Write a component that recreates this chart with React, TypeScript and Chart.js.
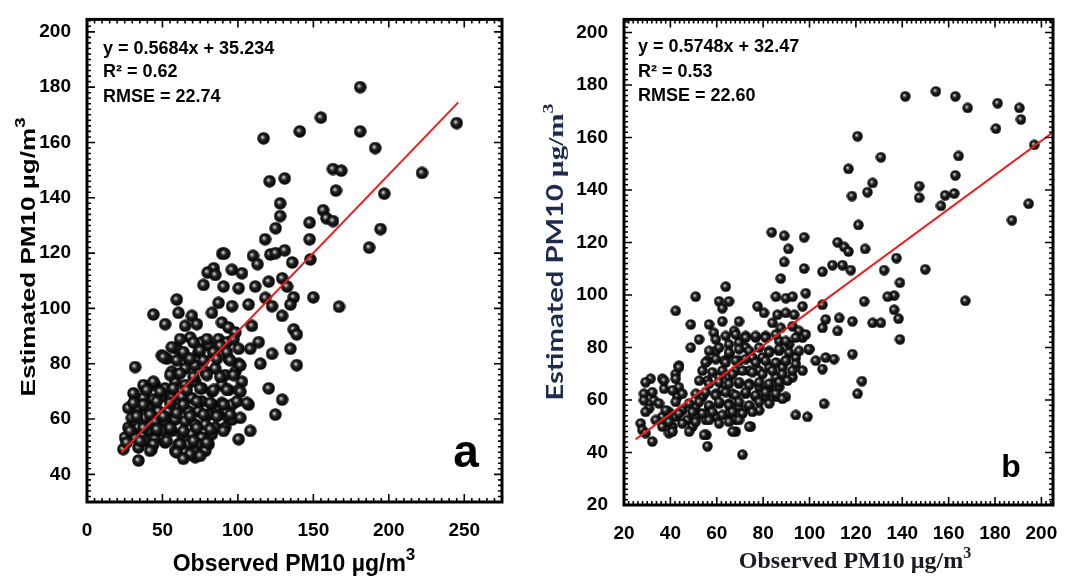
import React, { useEffect, useRef } from "react";
import { Chart, registerables } from "chart.js";

Chart.register(...registerables);

// ---------------- Panel a data ----------------
const scatterA: [number, number][] = [
  [181, 180], [155, 169], [141, 164], [117, 161.5], [181, 164], [191, 158], [245, 167], [222, 149],
  [197, 141.5], [194.5, 128.7], [187, 122], [163, 150.4], [168.5, 149.8], [165, 142.6], [121, 146],
  [131, 147], [128, 138], [128, 133.4], [125, 129], [156.5, 135.5], [158.7, 132.6], [163, 131.6],
  [147.5, 131], [147.5, 125], [118, 125], [148, 117.7], [136, 116.6], [121.5, 119.5], [125, 120],
  [131, 121], [110, 119], [113, 116], [89.6, 119.8], [91, 119.8], [84, 114.5], [80, 113], [96, 114],
  [167, 100.6], [150, 104], [137, 104], [137, 92.4], [139, 90.6], [139, 79.5],
  [77.2, 108.5], [85, 112.1], [90.5, 107.9], [100.5, 107.3], [102.7, 112.7], [111.5, 107.9], [120.4, 109.7],
  [129.3, 110.9], [132.6, 107.9], [59.5, 103.2], [60.6, 98.4], [44, 97.8], [51.8, 94.3], [69.5, 97.3],
  [82.8, 98.4], [87.2, 102], [96.1, 100.8], [107.1, 101.4], [118.2, 103.8], [122.6, 100.8], [129.3, 97.3],
  [134.8, 101.4], [65.1, 93.7], [72.8, 94.3], [89.4, 94.9], [93.8, 93.1], [98.3, 91.3], [109.3, 93.7],
  [113.8, 87.8], [108.2, 85.4], [122.6, 83.6], [134.8, 85.4], [114.9, 80], [49.6, 83], [52.9, 81.8],
  [59.5, 85.4], [68.4, 89.5], [76.1, 87.8], [80.6, 86.6], [87.2, 88.9], [92.7, 87.8], [100.5, 85.4],
  [67.3, 81.8], [73.9, 84.2], [83.9, 83.6], [93.8, 81.8], [100.5, 80], [31.9, 78.8], [56.2, 77.1],
  [65.1, 78.3], [71.7, 79.4], [78.4, 77.1], [85, 78.3], [91.6, 75.9], [98.3, 77.1], [102.7, 73.5],
  [89.4, 72.3], [38.5, 71.1], [45.1, 72.3], [51.8, 71.1], [58.4, 73.5], [65.1, 72.3], [71.7, 73.5],
  [76.1, 71.1], [82.8, 69.9], [93.8, 70.5], [100.5, 70.5], [120.4, 71.1], [129.3, 67], [31.9, 67.6],
  [37.4, 67.6], [44, 67], [49.6, 68.1], [56.2, 67.6], [62.9, 68.1], [69.5, 67.6], [76.1, 66.4],
  [82.8, 65.2], [89.4, 65.8], [96.1, 65.2], [107.1, 65.2], [124.8, 61.6], [27.4, 64], [34.1, 64],
  [40.7, 64], [47.4, 62.8], [54, 62.8], [60.6, 64], [67.3, 62.8], [73.9, 62.8], [80.6, 61.6],
  [87.2, 61.6], [93.8, 60.4], [96.1, 59.8], [29.7, 60.4], [38.5, 60.4], [45.1, 59.2], [51.8, 59.2],
  [58.4, 59.8], [65.1, 59.2], [71.7, 58], [78.4, 58], [85, 56.9], [91.6, 56.9], [27.4, 56.9],
  [34.1, 56.9], [40.7, 55.7], [49.6, 55.7], [56.2, 55.7], [62.9, 54.5], [69.5, 54.5], [76.1, 53.3],
  [82.8, 54.5], [25.2, 53.3], [31.9, 53.3], [38.5, 52.1], [45.1, 52.7], [51.8, 51.5], [60.6, 50.9],
  [67.3, 50.9], [73.9, 50.9], [80.6, 50.9], [100.5, 52.7], [108.2, 55.7], [24.1, 49.1], [34.1, 49.7],
  [42.9, 49.1], [65.1, 48], [71.7, 48], [78.4, 48.5], [58.4, 48.5], [34.1, 45], [71.7, 46.2],
  [61.7, 88.9], [70.6, 87.7], [79.5, 88.9], [88.3, 86.5], [97.2, 88.9], [56.2, 86], [63.9, 84.2],
  [75, 84.8], [83.9, 84.2], [92.7, 84.2], [50.7, 82.4], [59.5, 81.2], [68.4, 81.8], [77.2, 81.2],
  [86.1, 81.8], [94.9, 81.2], [101.6, 79.4], [37.4, 72.3], [44, 73.5], [55.1, 75.9], [61.7, 76.5],
  [70.6, 75.3], [79.5, 75.9], [88.3, 75.3], [97.2, 75.9], [30.8, 69.3], [39.6, 70.5], [48.5, 69.9],
  [57.3, 71.1], [66.2, 70.5], [75, 71.1], [83.9, 70.5], [92.7, 70.5], [101.6, 69.9], [30.8, 65.8],
  [37.4, 65.2], [46.3, 66.4], [55.1, 65.8], [63.9, 65.2], [72.8, 66.4], [81.7, 65.8], [90.5, 65.2],
  [99.4, 66.4], [106, 65.8], [33, 61], [41.8, 61.6], [50.7, 61], [59.5, 62.2], [68.4, 61],
  [77.2, 61.6], [86.1, 61], [94.9, 61.6], [101.6, 60.4], [28.5, 55.7], [37.4, 56.8], [46.3, 56.3],
  [55.1, 56.8], [63.9, 55.7], [72.8, 56.8], [81.7, 56.3], [90.5, 55.7], [26.3, 51.5], [35.2, 52.1],
  [44, 50.9], [52.9, 52.1], [61.7, 50.9], [70.6, 52.1], [79.5, 51.5], [41.8, 48.5], [59.5, 47.9],
  [68.4, 47.3], [75, 46.7], [63.9, 45.6],
];
const fitA: [number, number][] = [[23, 48], [246, 174.5]];
const statsA = ["y = 0.5684x + 35.234", "R\u00b2 = 0.62", "RMSE = 22.74"];
const xTicksA = [0, 50, 100, 150, 200, 250];
const yTicksA = [40, 60, 80, 100, 120, 140, 160, 180, 200];

// ---------------- Panel b data ----------------
const scatterB: [number, number][] = [
  [141.3, 175.7], [154.5, 177.6], [162.9, 175.7], [168.2, 171.3], [181.1, 173.1], [180.4, 163.4],
  [190.5, 171.3], [191.2, 166.9], [196.9, 157.2], [194.5, 134.8], [187.3, 128.5], [120.7, 160.5],
  [116.8, 148.1], [130.8, 152.5], [164.3, 153], [162.9, 145.6], [147.3, 141.5], [147.3, 137.1],
  [125, 139.2], [127.2, 142.7], [118.3, 137.7], [158.5, 138], [162.4, 138.7], [156.7, 134],
  [121.1, 126.7], [124, 117.6], [149.9, 109.8], [137.5, 114.1], [139, 104.7], [132.2, 109.5],
  [83.7, 123.9], [89.1, 122.6], [90.9, 117.6], [97.7, 122], [112.1, 120.1], [115, 118.3], [116.8, 116.6],
  [167.2, 97.8], [136.5, 99.8], [133.7, 99.4], [136.5, 94.4], [138.4, 91], [139, 83.1], [127.2, 89.4],
  [130.8, 89.4], [123.6, 97.6], [122.6, 67.2],
  [89.1, 112.6], [97.7, 110.1], [105.6, 108.9], [109.9, 111.4], [114.2, 111.4], [117.8, 109.5],
  [87.6, 106.3], [63.9, 103.2], [50.9, 99.4], [61, 97.6], [65.3, 97.6], [62.4, 95], [42.3, 94],
  [77.6, 95.7], [80.4, 93.2], [85.5, 99.4], [89.8, 98.8], [92.7, 99.4], [98.4, 100.7], [97, 95.7],
  [105.6, 96.3], [86.2, 92.5], [89.8, 93.2], [93.4, 92.5], [105.6, 87.5], [107, 90.7], [112.8, 91.3],
  [112.1, 86.3], [118.5, 90], [48.8, 88.8], [52.4, 83.1], [48.8, 80], [56.7, 88.8], [58.8, 85.6],
  [62.4, 90], [69.6, 90], [67.5, 86.3], [72.5, 84.4], [76.8, 83.8], [69.6, 81.9], [65.3, 81.2],
  [84, 89.4], [87.6, 87.5], [92.7, 88.1], [95.5, 86.3], [81.1, 84.4], [86.9, 82.5], [91.2, 81.2],
  [97, 83.8], [99.8, 79.4], [102.7, 75], [107, 76.2], [110.6, 75.6], [105.6, 71.8], [118.5, 77.5],
  [120.7, 62.4], [106.3, 58.6], [94.1, 54.3], [99.1, 53.6], [43.7, 73.1], [42.3, 69.9], [43.7, 64.9],
  [43, 61.2], [36.5, 68.1], [37.3, 64.3], [31.5, 68.1], [28.6, 62.4], [32.9, 59.9], [30.8, 56.8],
  [27.2, 51.1], [27.9, 48.6], [32.2, 44.2], [36.5, 53.6], [39.4, 55.5], [36.5, 49.9], [40.9, 49.9],
  [45.2, 56.1], [47.3, 52.4], [50.9, 53.6], [55.3, 52.4], [56.7, 57.4], [59.6, 62.4], [56, 67.4],
  [61, 68.7], [63.2, 75], [56, 75], [59.6, 78.7], [65.3, 77.5], [69.6, 75], [72.5, 80], [75.4, 76.2],
  [79.7, 76.2], [82.6, 78.7], [86.9, 78.7], [89.8, 75], [94.1, 76.2], [97, 71.2], [92.7, 68.7],
  [88.3, 72.5], [85.5, 68.7], [82.6, 72.5], [78.3, 71.2], [74, 71.2], [68.2, 71.2], [65.3, 68.7],
  [69.6, 66.2], [74, 66.2], [78.3, 64.9], [82.6, 64.9], [86.9, 64.9], [89.8, 61.2], [85.5, 61.2],
  [81.1, 61.2], [76.8, 61.2], [72.5, 62.4], [66.8, 62.4], [62.4, 63.7], [61, 58.6], [65.3, 58.6],
  [69.6, 57.4], [74, 57.4], [78.3, 56.1], [65.3, 54.9], [59.6, 53.6], [68.2, 52.4], [53.8, 61.2],
  [50.9, 57.4], [49.5, 49.9], [55.5, 46.7], [56, 42.4], [68.2, 48], [74.7, 49.9], [71.1, 39.2],
  [39.4, 47.4], [42.3, 53.6],
  [59.6, 83.1], [63.9, 84.4], [68.2, 85], [72.5, 83.8], [76.8, 84.4], [81.1, 83.8], [85.5, 85],
  [89.8, 82.5], [94.1, 83.8], [98.4, 85], [56.7, 78.7], [61, 80], [65.3, 78.1], [69.6, 79.4],
  [74, 78.7], [78.3, 80], [82.6, 78.1], [86.9, 79.4], [91.2, 78.1], [95.5, 78.7], [99.8, 79.4],
  [55.2, 74.3], [59.6, 75.6], [63.9, 74.3], [68.2, 75], [72.5, 75.6], [76.8, 74.3], [81.1, 75],
  [85.5, 74.3], [89.8, 75], [94.1, 73.7], [43.7, 72.5], [53.8, 71.2], [58.1, 70.6], [62.4, 71.2],
  [66.8, 69.9], [71.1, 71.2], [75.4, 70.6], [79.7, 69.9], [84, 71.2], [88.3, 69.9], [92.6, 71.2],
  [29.3, 66.8], [37.3, 67.4], [42.3, 68.1], [52.4, 67.4], [56.7, 66.2], [61, 66.8], [65.3, 66.2],
  [69.6, 66.8], [74, 65.6], [78.3, 66.8], [82.6, 66.2], [86.9, 66.8], [90.5, 67.4], [32.2, 63],
  [40.9, 63.7], [45.2, 62.4], [51, 62.4], [55.2, 63], [59.6, 61.8], [63.9, 63], [68.2, 61.8],
  [72.5, 63], [76.8, 61.8], [81.1, 63], [85.5, 62.4], [88.3, 60.5], [28.6, 59.9], [35.1, 58.7],
  [42.3, 59.3], [48.1, 58.7], [52.4, 59.3], [56.7, 58], [61, 59.3], [65.3, 58], [69.6, 59.3],
  [74, 58], [78.3, 59.3], [82.6, 58.7], [29.3, 55.5], [38, 56.1], [43.7, 54.9], [49.5, 55.5],
  [53.8, 54.9], [58.1, 55.5], [62.4, 54.3], [66.8, 55.5], [71.1, 54.9], [75.4, 55.5], [33.7, 52.4],
  [39.4, 51.7], [45.2, 51.1], [50.9, 51.7], [56.7, 52.4], [61, 51.1], [65.3, 51.7], [69.6, 52.4],
  [74, 49.9], [29.3, 47.4], [40.9, 48], [48.1, 48], [54.5, 46.7], [66.8, 48],
];
const fitB: [number, number][] = [[25, 45], [205, 162]];
const statsB = ["y = 0.5748x + 32.47", "R\u00b2 = 0.53", "RMSE = 22.60"];
const xTicksB = [20, 40, 60, 80, 100, 120, 140, 160, 180, 200];
const yTicksB = [20, 40, 60, 80, 100, 120, 140, 160, 180, 200];

// ---------------- helpers ----------------
type Seg = { t: string; font: string; dy?: number };

function drawSegs(
  ctx: CanvasRenderingContext2D,
  segs: Seg[],
  cx: number,
  baseY: number,
  angle: number,
  color: string,
  target?: number
) {
  ctx.save();
  ctx.translate(cx, baseY);
  ctx.rotate(angle);
  ctx.fillStyle = color;
  ctx.textBaseline = "alphabetic";
  ctx.textAlign = "left";
  let total = 0;
  const ws = segs.map((s) => {
    ctx.font = s.font;
    const w = ctx.measureText(s.t).width;
    total += w;
    return w;
  });
  const sx = target ? target / total : 1;
  ctx.scale(sx, 1);
  let x = -total / 2;
  segs.forEach((s, i) => {
    ctx.font = s.font;
    ctx.fillText(s.t, x, s.dy ?? 0);
    x += ws[i];
  });
  ctx.restore();
}

function makeSphere(d: number) {
  const c = document.createElement("canvas");
  c.width = d;
  c.height = d;
  const g = c.getContext("2d")!;
  const r = d / 2;
  const grad = g.createRadialGradient(r * 0.78, r * 0.78, 0, r, r, r);
  grad.addColorStop(0, "#ffffff");
  grad.addColorStop(0.16, "#9a9a9a");
  grad.addColorStop(0.42, "#222222");
  grad.addColorStop(1, "#000000");
  g.fillStyle = grad;
  g.beginPath();
  g.arc(r, r, r - 0.3, 0, Math.PI * 2);
  g.fill();
  return c;
}

type PanelCfg = {
  left: number;
  width: number;
  height: number;
  pad: { top: number; right: number };
  yW: number;
  xH: number;
  xMin: number;
  xMax: number;
  yMin: number;
  yMax: number;
  xMinor: number;
  yMinor: number;
  xMajor: number;
  yMajor: number;
  xTicks: number[];
  yTicks: number[];
  pts: [number, number][];
  fit: [number, number][];
  stats: string[];
  statsFont: string;
  statsDx: number;
  statsDy: number[];
  letter: string;
  letterFont: string;
  letterPos: [number, number];
  ball: number;
  titles: (ctx: CanvasRenderingContext2D) => void;
};

const tickFont = { family: '"Liberation Sans", Arial, sans-serif', size: 19, weight: "bold" as const };

function Panel({ cfg }: { cfg: PanelCfg }) {
  const ref = useRef<HTMLCanvasElement>(null);
  useEffect(() => {
    const cv = ref.current!;
    const sphere = makeSphere(cfg.ball);
    const deco = {
      id: "deco",
      afterDraw(chart: any) {
        const { ctx, chartArea: a, scales } = chart;
        const x = scales.x;
        const y = scales.y;
        ctx.save();
        ctx.strokeStyle = "#000";
        ctx.lineWidth = 1.6;
        ctx.beginPath();
        const x0 = Math.ceil(cfg.xMin / cfg.xMinor) * cfg.xMinor;
        for (let v = x0; v <= cfg.xMax + 1e-6; v += cfg.xMinor) {
          const vv = Math.round(v * 1000) / 1000;
          const p = x.getPixelForValue(vv);
          const len = Math.abs(vv % cfg.xMajor) < 1e-6 ? 8 : 4;
          ctx.moveTo(p, a.bottom);
          ctx.lineTo(p, a.bottom - len);
          ctx.moveTo(p, a.top);
          ctx.lineTo(p, a.top + len);
        }
        const y0 = Math.ceil(cfg.yMin / cfg.yMinor) * cfg.yMinor;
        for (let v = y0; v <= cfg.yMax + 1e-6; v += cfg.yMinor) {
          const vv = Math.round(v * 1000) / 1000;
          const p = y.getPixelForValue(vv);
          const len = Math.abs(vv % cfg.yMajor) < 1e-6 ? 8 : 4;
          ctx.moveTo(a.left, p);
          ctx.lineTo(a.left + len, p);
          ctx.moveTo(a.right, p);
          ctx.lineTo(a.right - len, p);
        }
        ctx.stroke();
        ctx.lineWidth = 3;
        ctx.strokeRect(a.left, a.top, a.right - a.left, a.bottom - a.top);
        // stats text
        ctx.fillStyle = "#000";
        ctx.font = cfg.statsFont;
        ctx.textBaseline = "middle";
        ctx.textAlign = "left";
        cfg.stats.forEach((s, i) => ctx.fillText(s, a.left + cfg.statsDx, a.top + cfg.statsDy[i]));
        // panel letter
        ctx.font = cfg.letterFont;
        ctx.textAlign = "center";
        ctx.textBaseline = "alphabetic";
        ctx.fillText(cfg.letter, a.right + cfg.letterPos[0], a.bottom + cfg.letterPos[1]);
        cfg.titles(ctx);
        ctx.restore();
      },
    };
    const chart = new Chart(cv, {
      type: "scatter",
      data: {
        datasets: [
          {
            type: "line",
            data: cfg.fit.map(([x, y]) => ({ x, y })),
            borderColor: "#ee1c1c",
            borderWidth: 2,
            pointRadius: 0,
            showLine: true,
            fill: false,
            order: 0,
          } as any,
          {
            data: cfg.pts.map(([x, y]) => ({ x, y })),
            pointStyle: sphere as any,
            pointRadius: cfg.ball / 2,
            order: 1,
          },
        ],
      },
      options: {
        animation: false,
        responsive: false,
        devicePixelRatio: 1,
        layout: { padding: { left: 0, top: cfg.pad.top, right: cfg.pad.right, bottom: 0 } },
        plugins: { legend: { display: false }, tooltip: { enabled: false } },
        scales: {
          x: {
            type: "linear",
            min: cfg.xMin,
            max: cfg.xMax,
            grid: { display: false },
            border: { display: false },
            afterBuildTicks: (s: any) => {
              s.ticks = cfg.xTicks.map((v) => ({ value: v }));
            },
            afterFit: (s: any) => {
              s.height = cfg.xH;
            },
            ticks: { color: "#000", font: tickFont, padding: 9, maxRotation: 0, autoSkip: false },
          },
          y: {
            type: "linear",
            min: cfg.yMin,
            max: cfg.yMax,
            grid: { display: false },
            border: { display: false },
            afterBuildTicks: (s: any) => {
              s.ticks = cfg.yTicks.map((v) => ({ value: v }));
            },
            afterFit: (s: any) => {
              s.width = cfg.yW;
            },
            ticks: { color: "#000", font: tickFont, padding: 8, autoSkip: false },
          },
        },
      },
      plugins: [deco],
    });
    return () => chart.destroy();
  }, [cfg]);
  return (
    <canvas
      ref={ref}
      width={cfg.width}
      height={cfg.height}
      style={{ position: "absolute", left: cfg.left, top: 0, width: cfg.width, height: cfg.height }}
    />
  );
}

const SANS = '"Liberation Sans", Arial, sans-serif';
const SERIF = '"Liberation Serif", "Times New Roman", serif';

const panelA: PanelCfg = {
  left: 0,
  width: 540,
  height: 581,
  pad: { top: 12, right: 38 },
  yW: 87,
  xH: 79,
  xMin: 0,
  xMax: 275,
  yMin: 30,
  yMax: 204.5,
  xMinor: 5,
  yMinor: 2,
  xMajor: 50,
  yMajor: 20,
  xTicks: xTicksA,
  yTicks: yTicksA,
  pts: scatterA,
  fit: fitA,
  stats: statsA,
  statsFont: `bold 18px ${SANS}`,
  statsDx: 16,
  statsDy: [30, 53, 78],
  letter: "a",
  letterFont: `bold 46px ${SANS}`,
  letterPos: [-36, -35],
  ball: 13,
  titles: (ctx) => {
    drawSegs(
      ctx,
      [
        { t: "Estimated PM10 \u00b5g/m", font: `bold 21px ${SANS}` },
        { t: "3", font: `bold 15px ${SANS}`, dy: -10 },
      ],
      35,
      257,
      -Math.PI / 2,
      "#000",
      279
    );
    drawSegs(
      ctx,
      [
        { t: "Observed PM10 \u00b5g/m", font: `bold 23px ${SANS}` },
        { t: "3", font: `bold 17px ${SANS}`, dy: -11 },
      ],
      294,
      571,
      0,
      "#000"
    );
  },
};

const panelB: PanelCfg = {
  left: 540,
  width: 538,
  height: 581,
  pad: { top: 15, right: 25 },
  yW: 84,
  xH: 76,
  xMin: 20,
  xMax: 205,
  yMin: 20,
  yMax: 205,
  xMinor: 2,
  yMinor: 2,
  xMajor: 20,
  yMajor: 20,
  xTicks: xTicksB,
  yTicks: yTicksB,
  pts: scatterB,
  fit: fitB,
  stats: statsB,
  statsFont: `bold 18px ${SANS}`,
  statsDx: 14,
  statsDy: [28, 53, 77],
  letter: "b",
  letterFont: `bold 32px ${SANS}`,
  letterPos: [-42, -28],
  ball: 11,
  titles: (ctx) => {
    drawSegs(
      ctx,
      [
        { t: "Estimated PM10 ", font: `bold 22px Lato, ${SANS}` },
        { t: "\u00b5g/m", font: `bold 22px ${SERIF}` },
        { t: "3", font: `bold 15px ${SERIF}`, dy: -10 },
      ],
      23,
      252,
      -Math.PI / 2,
      "#1d2b50",
      297
    );
    drawSegs(
      ctx,
      [
        { t: "Observed PM10 \u00b5g/m", font: `bold 24px ${SERIF}` },
        { t: "3", font: `bold 16px ${SERIF}`, dy: -10 },
      ],
      315,
      568,
      0,
      "#1a1a22"
    );
  },
};

export default function App() {
  useEffect(() => {
    document.body.style.margin = "0";
  }, []);
  return (
    <div style={{ position: "fixed", left: 0, top: 0, width: 1078, height: 581, background: "#fff" }}>
      <Panel cfg={panelA} />
      <Panel cfg={panelB} />
    </div>
  );
}
